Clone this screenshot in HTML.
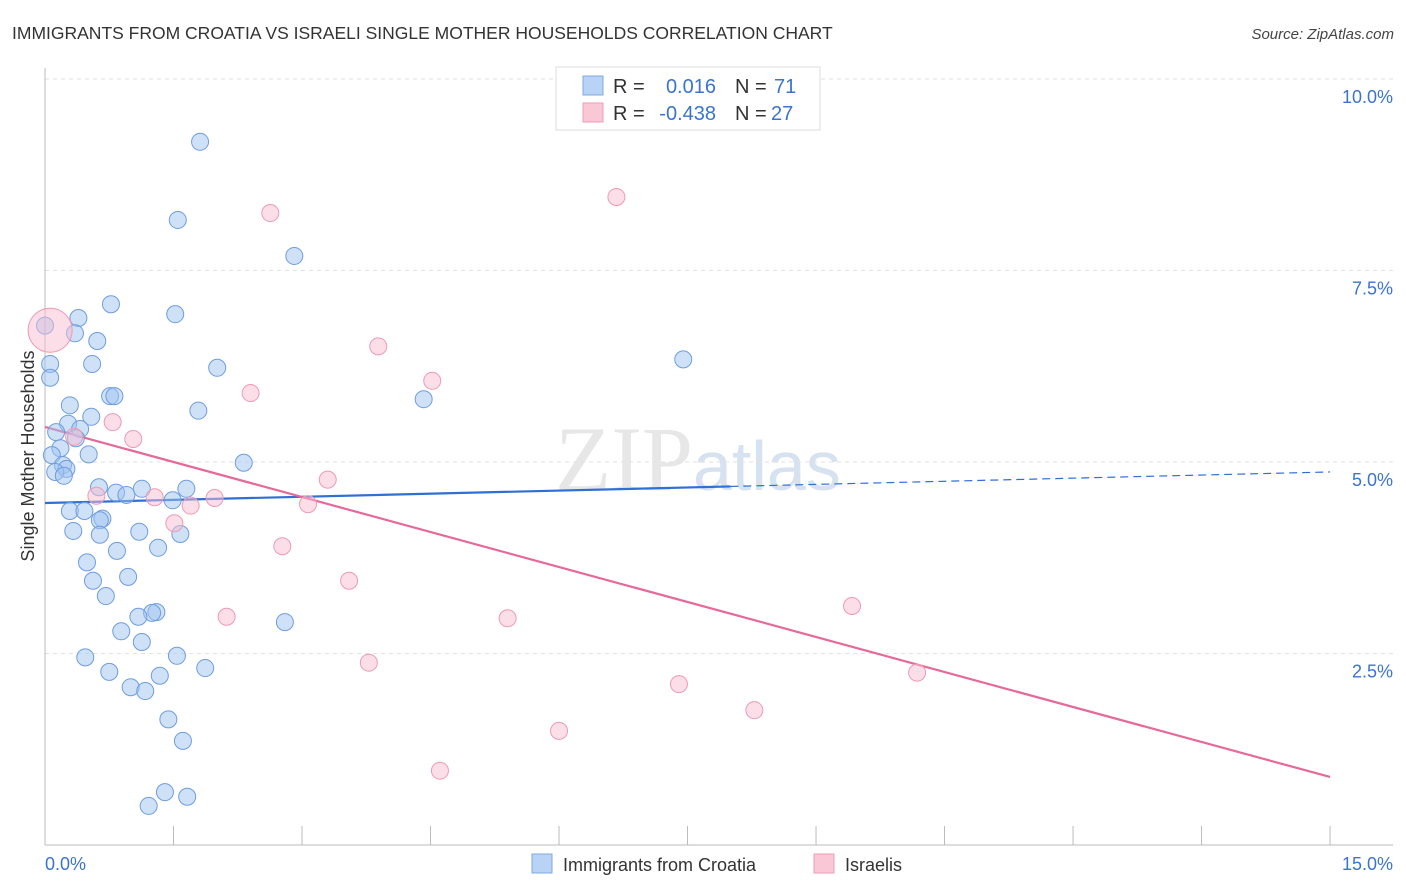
<!DOCTYPE html>
<html><head><meta charset="utf-8"><style>
body{margin:0;background:#fff;font-family:"Liberation Sans",sans-serif;}
svg{display:block}
</style></head><body>
<svg id="chart" width="1406" height="892" xmlns="http://www.w3.org/2000/svg" font-family="Liberation Sans, sans-serif">
<text x="12" y="39" font-size="17.5" fill="#333">IMMIGRANTS FROM CROATIA VS ISRAELI SINGLE MOTHER HOUSEHOLDS CORRELATION CHART</text>
<text x="1394" y="39" font-size="15" fill="#444" font-style="italic" text-anchor="end">Source: ZipAtlas.com</text>
<text x="555" y="490" font-size="92" fill="#ddd" font-family="Liberation Serif, serif" opacity="0.7">ZIP<tspan fill="#c5d6ea" font-family="Liberation Sans, sans-serif" font-size="70">atlas</tspan></text>
<g id="grid"></g>
<g id="axes"></g>
<g id="lines"></g>
<g id="pts"></g>
<text transform="translate(34,456) rotate(-90)" font-size="18" fill="#333" text-anchor="middle">Single Mother Households</text>
<g>
<rect x="556" y="67" width="264" height="63" fill="#fff" stroke="#ddd"/>
<rect x="583" y="76" width="20" height="19" fill="#b8d3f5" stroke="#7fa8e0"/>
<rect x="583" y="103" width="20" height="19" fill="#f9c7d6" stroke="#ef9db6"/>
<text x="613" y="93" font-size="20" fill="#333">R =</text>
<text x="716" y="93" font-size="20" fill="#3a74d0" text-anchor="end">0.016</text>
<text x="735" y="93" font-size="20" fill="#333">N =</text>
<text x="774" y="93" font-size="20" fill="#3a74d0">71</text>
<text x="613" y="120" font-size="20" fill="#333">R =</text>
<text x="716" y="120" font-size="20" fill="#3a74d0" text-anchor="end">-0.438</text>
<text x="735" y="120" font-size="20" fill="#333">N =</text>
<text x="771" y="120" font-size="20" fill="#3a74d0">27</text>
</g>
<g>
<rect x="532" y="854" width="20" height="19" fill="#b8d3f5" stroke="#7fa8e0"/>
<text x="563" y="871" font-size="18" fill="#333">Immigrants from Croatia</text>
<rect x="814" y="854" width="20" height="19" fill="#f9c7d6" stroke="#ef9db6"/>
<text x="845" y="871" font-size="18" fill="#333">Israelis</text>
</g>
</svg>
<script>
const xTicks=[0,1.5,3,4.5,6,7.5,9,10.5,12,13.5,15];
const yTicks=[2.5,5,7.5,10];
const yTickLabels=["2.5%","5.0%","7.5%","10.0%"];
const croatiaX=[1.81,1.55,2.91,0.77,1.52,0.39,0.00,0.35,0.61,0.06,0.55,2.01,0.06,7.45,0.76,0.81,4.42,0.29,1.79,0.54,0.27,0.13,0.41,0.36,0.18,0.51,0.08,2.32,0.21,0.25,0.12,0.22,0.63,1.13,1.65,0.83,0.95,1.49,0.29,0.46,0.67,0.64,0.33,1.10,1.58,0.64,1.32,0.84,0.49,0.97,0.56,0.71,1.30,1.25,1.09,2.80,0.89,1.13,0.47,1.54,1.87,0.75,1.34,1.00,1.17,1.44,1.61,1.40,1.66,1.21];
const croatiaY=[9.18,8.16,7.69,7.06,6.93,6.88,6.78,6.68,6.58,6.28,6.28,6.23,6.10,6.34,5.86,5.86,5.82,5.74,5.67,5.59,5.50,5.39,5.43,5.31,5.18,5.10,5.09,4.99,4.96,4.91,4.87,4.82,4.67,4.65,4.65,4.60,4.57,4.50,4.36,4.36,4.26,4.24,4.10,4.09,4.06,4.05,3.88,3.84,3.69,3.50,3.45,3.25,3.04,3.03,2.98,2.91,2.79,2.65,2.45,2.47,2.31,2.26,2.21,2.06,2.01,1.64,1.36,0.69,0.63,0.51];
const israeliX=[2.63,6.67,3.89,4.52,2.40,0.79,1.03,0.34,3.30,0.60,1.28,1.98,1.70,3.07,1.51,2.77,3.55,2.12,5.40,9.42,3.78,7.40,10.18,8.28,6.00,4.61,0.06];
const israeliY=[8.25,8.46,6.51,6.06,5.90,5.52,5.30,5.33,4.77,4.56,4.54,4.53,4.43,4.45,4.20,3.90,3.45,2.98,2.96,3.12,2.38,2.10,2.25,1.76,1.49,0.97,6.72];
const croatiaTrend=[4.465,4.87];
const israeliTrend=[5.457,0.888];
const NS="http://www.w3.org/2000/svg";
const sx=v=>45+v*85.67, sy=v=>845-v*76.6;
function mk(p,t,a){const e=document.createElementNS(NS,t);for(const k in a)e.setAttribute(k,a[k]);document.getElementById(p).appendChild(e);return e;}
yTicks.forEach((t,i)=>{
 const g=mk('grid','line',{x1:45,x2:1393,y1:sy(t),y2:sy(t),stroke:'#e2e2e2','stroke-dasharray':'4,4'});
 
 
 const l=mk('axes','text',{x:1393,y:sy(t)+24,'font-size':18,fill:'#3a74d0','text-anchor':'end'});
 l.textContent=yTickLabels[i];
 
 
});
const topg=mk('grid','line',{x1:45,x2:1393,y1:79,y2:79,stroke:'#e2e2e2','stroke-dasharray':'4,4'});


const ya=mk('axes','line',{x1:45,x2:45,y1:68,y2:845,stroke:'#bbb'});


const xa=mk('axes','line',{x1:45,x2:1393,y1:845,y2:845,stroke:'#bbb'});


xTicks.forEach(t=>{
 const k=mk('axes','line',{x1:sx(t),x2:sx(t),y1:826,y2:845,stroke:'#bbb'});
 
 
});
const xl0=mk('axes','text',{x:45,y:870,'font-size':18,fill:'#3a74d0'});xl0.textContent=xTicks[0].toFixed(1)+'%';


const xl1=mk('axes','text',{x:1393,y:870,'font-size':18,fill:'#3a74d0','text-anchor':'end'});xl1.textContent=xTicks[xTicks.length-1].toFixed(1)+'%';


const cs=mk('lines','line',{x1:sx(0),y1:sy(croatiaTrend[0]),x2:sx(8),y2:sy(croatiaTrend[0]+(croatiaTrend[1]-croatiaTrend[0])*8/15),stroke:'#2f6fd6','stroke-width':2.2});


const cd=mk('lines','line',{x1:sx(8),y1:sy(croatiaTrend[0]+(croatiaTrend[1]-croatiaTrend[0])*8/15),x2:sx(15),y2:sy(croatiaTrend[1]),stroke:'#2f6fd6','stroke-width':1.2,'stroke-dasharray':'8,5'});


const it=mk('lines','line',{x1:sx(0),y1:sy(israeliTrend[0]),x2:sx(15),y2:sy(israeliTrend[1]),stroke:'#e6699a','stroke-width':2.2});


croatiaX.forEach((x,i)=>{
 const c=mk('pts','circle',{cx:sx(x),cy:sy(croatiaY[i]),r:8.5,fill:'rgba(160,195,240,0.5)',stroke:'#6e9de0','stroke-width':1});
 
 
});
israeliX.forEach((x,i)=>{
 const big=i===israeliX.length-1;
 const c=mk('pts','circle',{cx:sx(x),cy:sy(israeliY[i]),r:big?22:8.5,fill:'rgba(248,190,210,0.5)',stroke:'#ee9ab6','stroke-width':1});
 
 
});
</script>
</body></html>
